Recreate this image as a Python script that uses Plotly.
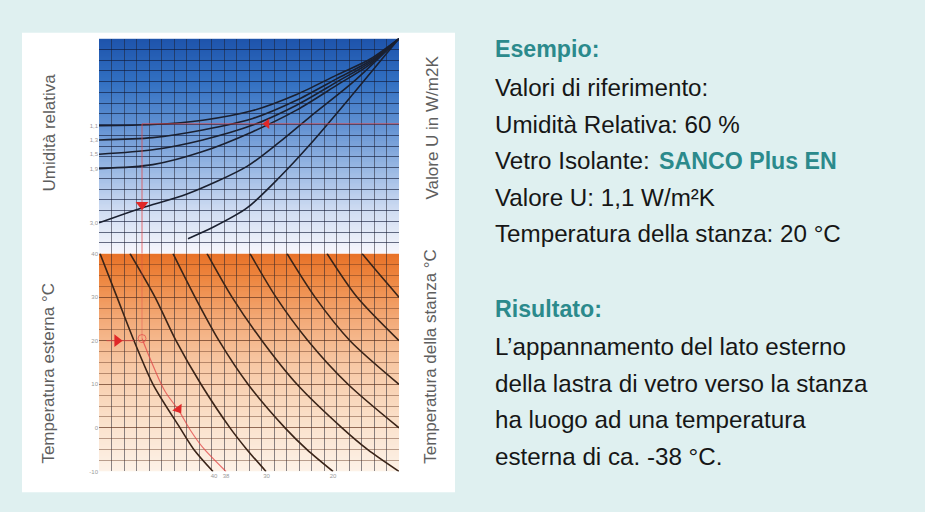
import zlib, struct, base64
import plotly.graph_objects as go

W, H = 925, 512

# ---------------- data (x: grid columns 0..24, upper y: grid rows 0..20, lower y: outdoor temperature °C)
u_labels = ["1,1", "1,3", "1,5", "1,9", "3,0"]
u_start = [11.9, 10.57, 9.24, 7.9, 2.86]

up_x_common = [0, 4.3, 8.3, 12.3, 15.8, 19.0, 21.7, 24]
u11_y = [11.9, 12.0, 12.4, 13.3, 14.8, 16.6, 18.1, 20]
u13_y = [10.57, 10.78, 11.49, 12.56, 14.26, 16.25, 17.94, 20]
u15_y = [9.24, 9.65, 10.57, 11.95, 13.8, 15.95, 17.79, 20]
u19_y = [7.9, 8.27, 9.49, 11.34, 13.34, 15.64, 17.63, 20]
u30_x = [0, 3.44, 7.04, 11.84, 14.48, 16.88, 20.32, 24]
u30_y = [2.86, 4.24, 5.53, 8.11, 10.41, 12.72, 15.94, 20]
u58_x = [7.12, 9.12, 11.84, 14.48, 16.88, 20.32, 24]
u58_y = [1.38, 2.44, 4.24, 7.14, 10.14, 14.84, 20]

t_ticks = [40, 30, 20, 10, 0, -10]
t_ticktext = ["40", "30", "20", "10", "0", "-10"]

c1_x = [0.08, 1.44, 2.8, 4.32, 6.48, 7.6, 9.12]
c1_t = [40, 30, 20, 10, 0, -5, -10]
c2_x = [2.48, 4.48, 6.16, 8.16, 10.48, 11.84, 13.36]
c2_t = [40, 30, 20, 10, 0, -5, -10]
c3_x = [5.92, 7.68, 9.6, 11.92, 14.88, 16.64, 18.72]
c3_t = [40, 30, 20, 10, 0, -5, -10]
c4_x = [8.64, 10.64, 13.04, 15.84, 19.44, 21.5, 24]
c4_t = [40, 30, 20, 10, 0, -5, -10]
c5_x = [12.08, 14.16, 16.72, 19.92, 24]
c5_t = [40, 30, 20, 10, 0]
c6_x = [15.04, 17.28, 20.08, 24]
c6_t = [40, 30, 20, 10]
c7_x = [18.24, 20.64, 24]
c7_t = [40, 30, 20]
c8_x = [21.04, 22.5, 24]
c8_t = [40, 35, 30]

x_tickvals = [9.2, 10.16, 13.4, 18.72]
x_ticktext = ["40", "38", "30", "20"]

# example reading (red path)
ex_u_row = 12.07      # U = 1,1 level in upper panel
ex_col = 3.44         # column of 60 % humidity
ex_hit_row = 4.24     # where it meets the 3,0 curve
ex_room_t = 20
red_x = [3.44, 4.32, 5.28, 6.4, 7.3, 8.3, 10.16]
red_t = [20.5, 14.3, 8.4, 3.9, -0.5, -4.5, -10]
result_x = 10.16
result_t = -11.6


# ---------------- gradient backgrounds as tiny PNGs
def gradient_png(stops, n=256):
    raw = b""
    for i in range(n):
        t = i / (n - 1)
        for j in range(len(stops) - 1):
            a, b = stops[j], stops[j + 1]
            if a[0] <= t <= b[0]:
                f = (t - a[0]) / (b[0] - a[0]) if b[0] > a[0] else 0
                c = [int(round(a[1][k] + (b[1][k] - a[1][k]) * f)) for k in range(3)]
                break
        raw += b"\x00" + bytes(c)

    def chunk(tag, data):
        return (struct.pack(">I", len(data)) + tag + data +
                struct.pack(">I", zlib.crc32(tag + data) & 0xffffffff))
    png = (b"\x89PNG\r\n\x1a\n" +
           chunk(b"IHDR", struct.pack(">IIBBBBB", 1, n, 8, 2, 0, 0, 0)) +
           chunk(b"IDAT", zlib.compress(raw)) + chunk(b"IEND", b""))
    return "data:image/png;base64," + base64.b64encode(png).decode()


blue_stops = [(0, (30, 84, 172)), (0.2, (50, 112, 194)), (0.4, (97, 145, 210)),
              (0.6, (152, 183, 227)), (0.8, (207, 220, 242)), (1.0, (247, 247, 252))]
orange_stops = [(0, (232, 114, 40)), (0.12, (238, 136, 66)), (0.3, (243, 170, 120)),
                (0.5, (247, 199, 163)), (0.75, (250, 223, 200)), (1.0, (253, 242, 232))]

fig = go.Figure()

UP_LINE = "#1a2030"
LO_LINE = "#3a2418"
RED = "#e02828"
RED_LINE = "rgba(226,70,70,0.75)"

def add_line(x, y, yaxis, color, width=1.6):
    fig.add_trace(go.Scatter(x=x, y=y, mode="lines", xaxis="x", yaxis=yaxis,
                             line=dict(color=color, width=width, shape="spline", smoothing=0.8),
                             hoverinfo="skip", showlegend=False))

for ys in (u11_y, u13_y, u15_y, u19_y):
    add_line(up_x_common, ys, "y", UP_LINE)
add_line(u30_x, u30_y, "y", UP_LINE)
add_line(u58_x, u58_y, "y", UP_LINE)

for xs, ts in ((c1_x, c1_t), (c2_x, c2_t), (c3_x, c3_t), (c4_x, c4_t),
               (c5_x, c5_t), (c6_x, c6_t), (c7_x, c7_t), (c8_x, c8_t)):
    add_line(xs, ts, "y2", LO_LINE)

# red example construction
fig.add_trace(go.Scatter(x=[ex_col, 24], y=[ex_u_row, ex_u_row], mode="lines", xaxis="x", yaxis="y",
                         line=dict(color=RED_LINE, width=1), hoverinfo="skip", showlegend=False))
fig.add_trace(go.Scatter(x=[ex_col, ex_col], y=[ex_u_row, 0], mode="lines", xaxis="x", yaxis="y",
                         line=dict(color=RED_LINE, width=1), hoverinfo="skip", showlegend=False))
fig.add_trace(go.Scatter(x=[ex_col, ex_col], y=[40, 20.5], mode="lines", xaxis="x", yaxis="y2",
                         line=dict(color="rgba(226,70,70,0.45)", width=1), hoverinfo="skip", showlegend=False))
fig.add_trace(go.Scatter(x=[13.44], y=[ex_u_row], mode="markers", xaxis="x", yaxis="y",
                         marker=dict(symbol="triangle-left", size=9, color=RED), hoverinfo="skip", showlegend=False))
fig.add_trace(go.Scatter(x=[ex_col], y=[ex_hit_row + 0.3], mode="markers", xaxis="x", yaxis="y",
                         marker=dict(symbol="triangle-down", size=11, color=RED), hoverinfo="skip", showlegend=False))
fig.add_trace(go.Scatter(x=[0.6, 2.8], y=[ex_room_t, ex_room_t], mode="lines", xaxis="x", yaxis="y2",
                         line=dict(color=RED_LINE, width=1), hoverinfo="skip", showlegend=False))
fig.add_trace(go.Scatter(x=[1.45], y=[ex_room_t], mode="markers", xaxis="x", yaxis="y2",
                         marker=dict(symbol="triangle-right", size=11, color=RED), hoverinfo="skip", showlegend=False))
fig.add_trace(go.Scatter(x=red_x, y=red_t, mode="lines", xaxis="x", yaxis="y2",
                         line=dict(color=RED_LINE, width=1.2, shape="spline"), hoverinfo="skip", showlegend=False))
fig.add_trace(go.Scatter(x=[red_x[0]], y=[red_t[0]], mode="markers", xaxis="x", yaxis="y2",
                         marker=dict(symbol="circle-open", size=8, color="rgba(226,70,70,0.7)", line=dict(width=1)),
                         hoverinfo="skip", showlegend=False))
fig.add_trace(go.Scatter(x=[6.35], y=[4.3], mode="markers", xaxis="x", yaxis="y2",
                         marker=dict(symbol="triangle-down", size=10, color=RED, angle=-35),
                         hoverinfo="skip", showlegend=False))
fig.add_trace(go.Scatter(x=[result_x], y=[result_t], mode="markers", xaxis="x", yaxis="y2", cliponaxis=False,
                         marker=dict(symbol="circle-open", size=14, color="rgba(226,80,80,0.8)", line=dict(width=1.2)),
                         hoverinfo="skip", showlegend=False))

# ---------------- layout
x0, x1 = 99 / W, 399 / W
y_top, y_mid, y_bot = 1 - 36 / H, 1 - 253.5 / H, 1 - 474 / H
GRID_UP = "rgba(15,25,55,0.62)"
GRID_X = "rgba(30,30,45,0.52)"
GRID_LO = "rgba(90,45,25,0.42)"
tickfont = dict(size=6, color="#9a9a9a", family="Liberation Sans, Arial, sans-serif")

fig.update_layout(
    width=W, height=H, margin=dict(l=0, r=0, t=0, b=0),
    paper_bgcolor="#dff0f0", plot_bgcolor="white",
    xaxis=dict(domain=[x0, x1], range=[0, 24], anchor="y2", tickmode="array",
               tickvals=x_tickvals, ticktext=x_ticktext, tickfont=tickfont, ticks="",
               showgrid=False, zeroline=False, showline=False, fixedrange=True,
               minor=dict(tickmode="linear", tick0=0, dtick=1, showgrid=True,
                          gridcolor=GRID_X, gridwidth=1)),
    yaxis=dict(domain=[y_mid, y_top], range=[0, 20], anchor="x", tickmode="array",
               tickvals=u_start, ticktext=u_labels, tickfont=tickfont, ticks="",
               showgrid=False, zeroline=False, showline=False, fixedrange=True,
               minor=dict(tickmode="linear", tick0=0, dtick=1, showgrid=True,
                          gridcolor=GRID_UP, gridwidth=1)),
    yaxis2=dict(domain=[y_bot, y_mid], range=[-10, 40], anchor="x", tickmode="array",
                tickvals=t_ticks, ticktext=t_ticktext, tickfont=tickfont, ticks="",
                showgrid=True, gridcolor=GRID_LO, gridwidth=1, zeroline=False, showline=False,
                fixedrange=True,
                minor=dict(tickmode="linear", tick0=0, dtick=2.5, showgrid=True,
                           gridcolor=GRID_LO, gridwidth=1)),
    images=[
        dict(source=gradient_png(blue_stops), xref="x", yref="y", x=0, y=20, sizex=24, sizey=20,
             xanchor="left", yanchor="top", sizing="stretch", layer="below"),
        dict(source=gradient_png(orange_stops), xref="x", yref="y2", x=0, y=40, sizex=24, sizey=50,
             xanchor="left", yanchor="top", sizing="stretch", layer="below"),
    ],
    shapes=[dict(type="rect", xref="paper", yref="paper", x0=22 / W, x1=455 / W,
                 y0=1 - 495 / H, y1=1 - 30 / H, fillcolor="white", line=dict(width=0), layer="below")],
)

FONT = "Liberation Sans, Arial, Helvetica, sans-serif"
TEAL = "#2b8a8c"

def side_title(text, xpx, ypx):
    fig.add_annotation(text=text, xref="paper", yref="paper", x=xpx / W, y=1 - ypx / H,
                       textangle=-90, showarrow=False, xanchor="center", yanchor="middle",
                       font=dict(family=FONT, size=17, color="#5e5e5e"))

side_title("Umidità relativa", 49, 131)
side_title("Temperatura esterna °C", 49, 375)
side_title("Valore U in W/m2K", 433, 126)
side_title("Temperatura della stanza °C", 431, 358)

def text_line(text, baseline_px, bold=False, color="#161616", xpx=493):
    size = 23.2 if bold else 24.2
    center = baseline_px - 0.35 * size
    fig.add_annotation(text=text, xref="paper", yref="paper", x=xpx / W, y=1 - center / H,
                       showarrow=False, xanchor="left", yanchor="middle", align="left",
                       font=dict(family=FONT, size=size, color=color,
                                 weight="bold" if bold else "normal"))

text_line("Esempio:", 55, bold=True, color=TEAL)
text_line("Valori di riferimento:", 94)
text_line("Umidità Relativa: 60 %", 131)
text_line("Vetro Isolante:", 168)
text_line("SANCO Plus EN", 168, bold=True, color=TEAL, xpx=657)
text_line("Valore U: 1,1 W/m²K", 205)
text_line("Temperatura della stanza: 20 °C", 242)

text_line("Risultato:", 318, bold=True, color=TEAL)
text_line("L’appannamento del lato esterno", 356)
text_line("della lastra di vetro verso la stanza", 393)
text_line("ha luogo ad una temperatura", 430)
text_line("esterna di ca. -38 °C.", 467)

fig.write_html("out.html", config={"displayModeBar": False},
               post_script="document.body.style.margin='0';")
